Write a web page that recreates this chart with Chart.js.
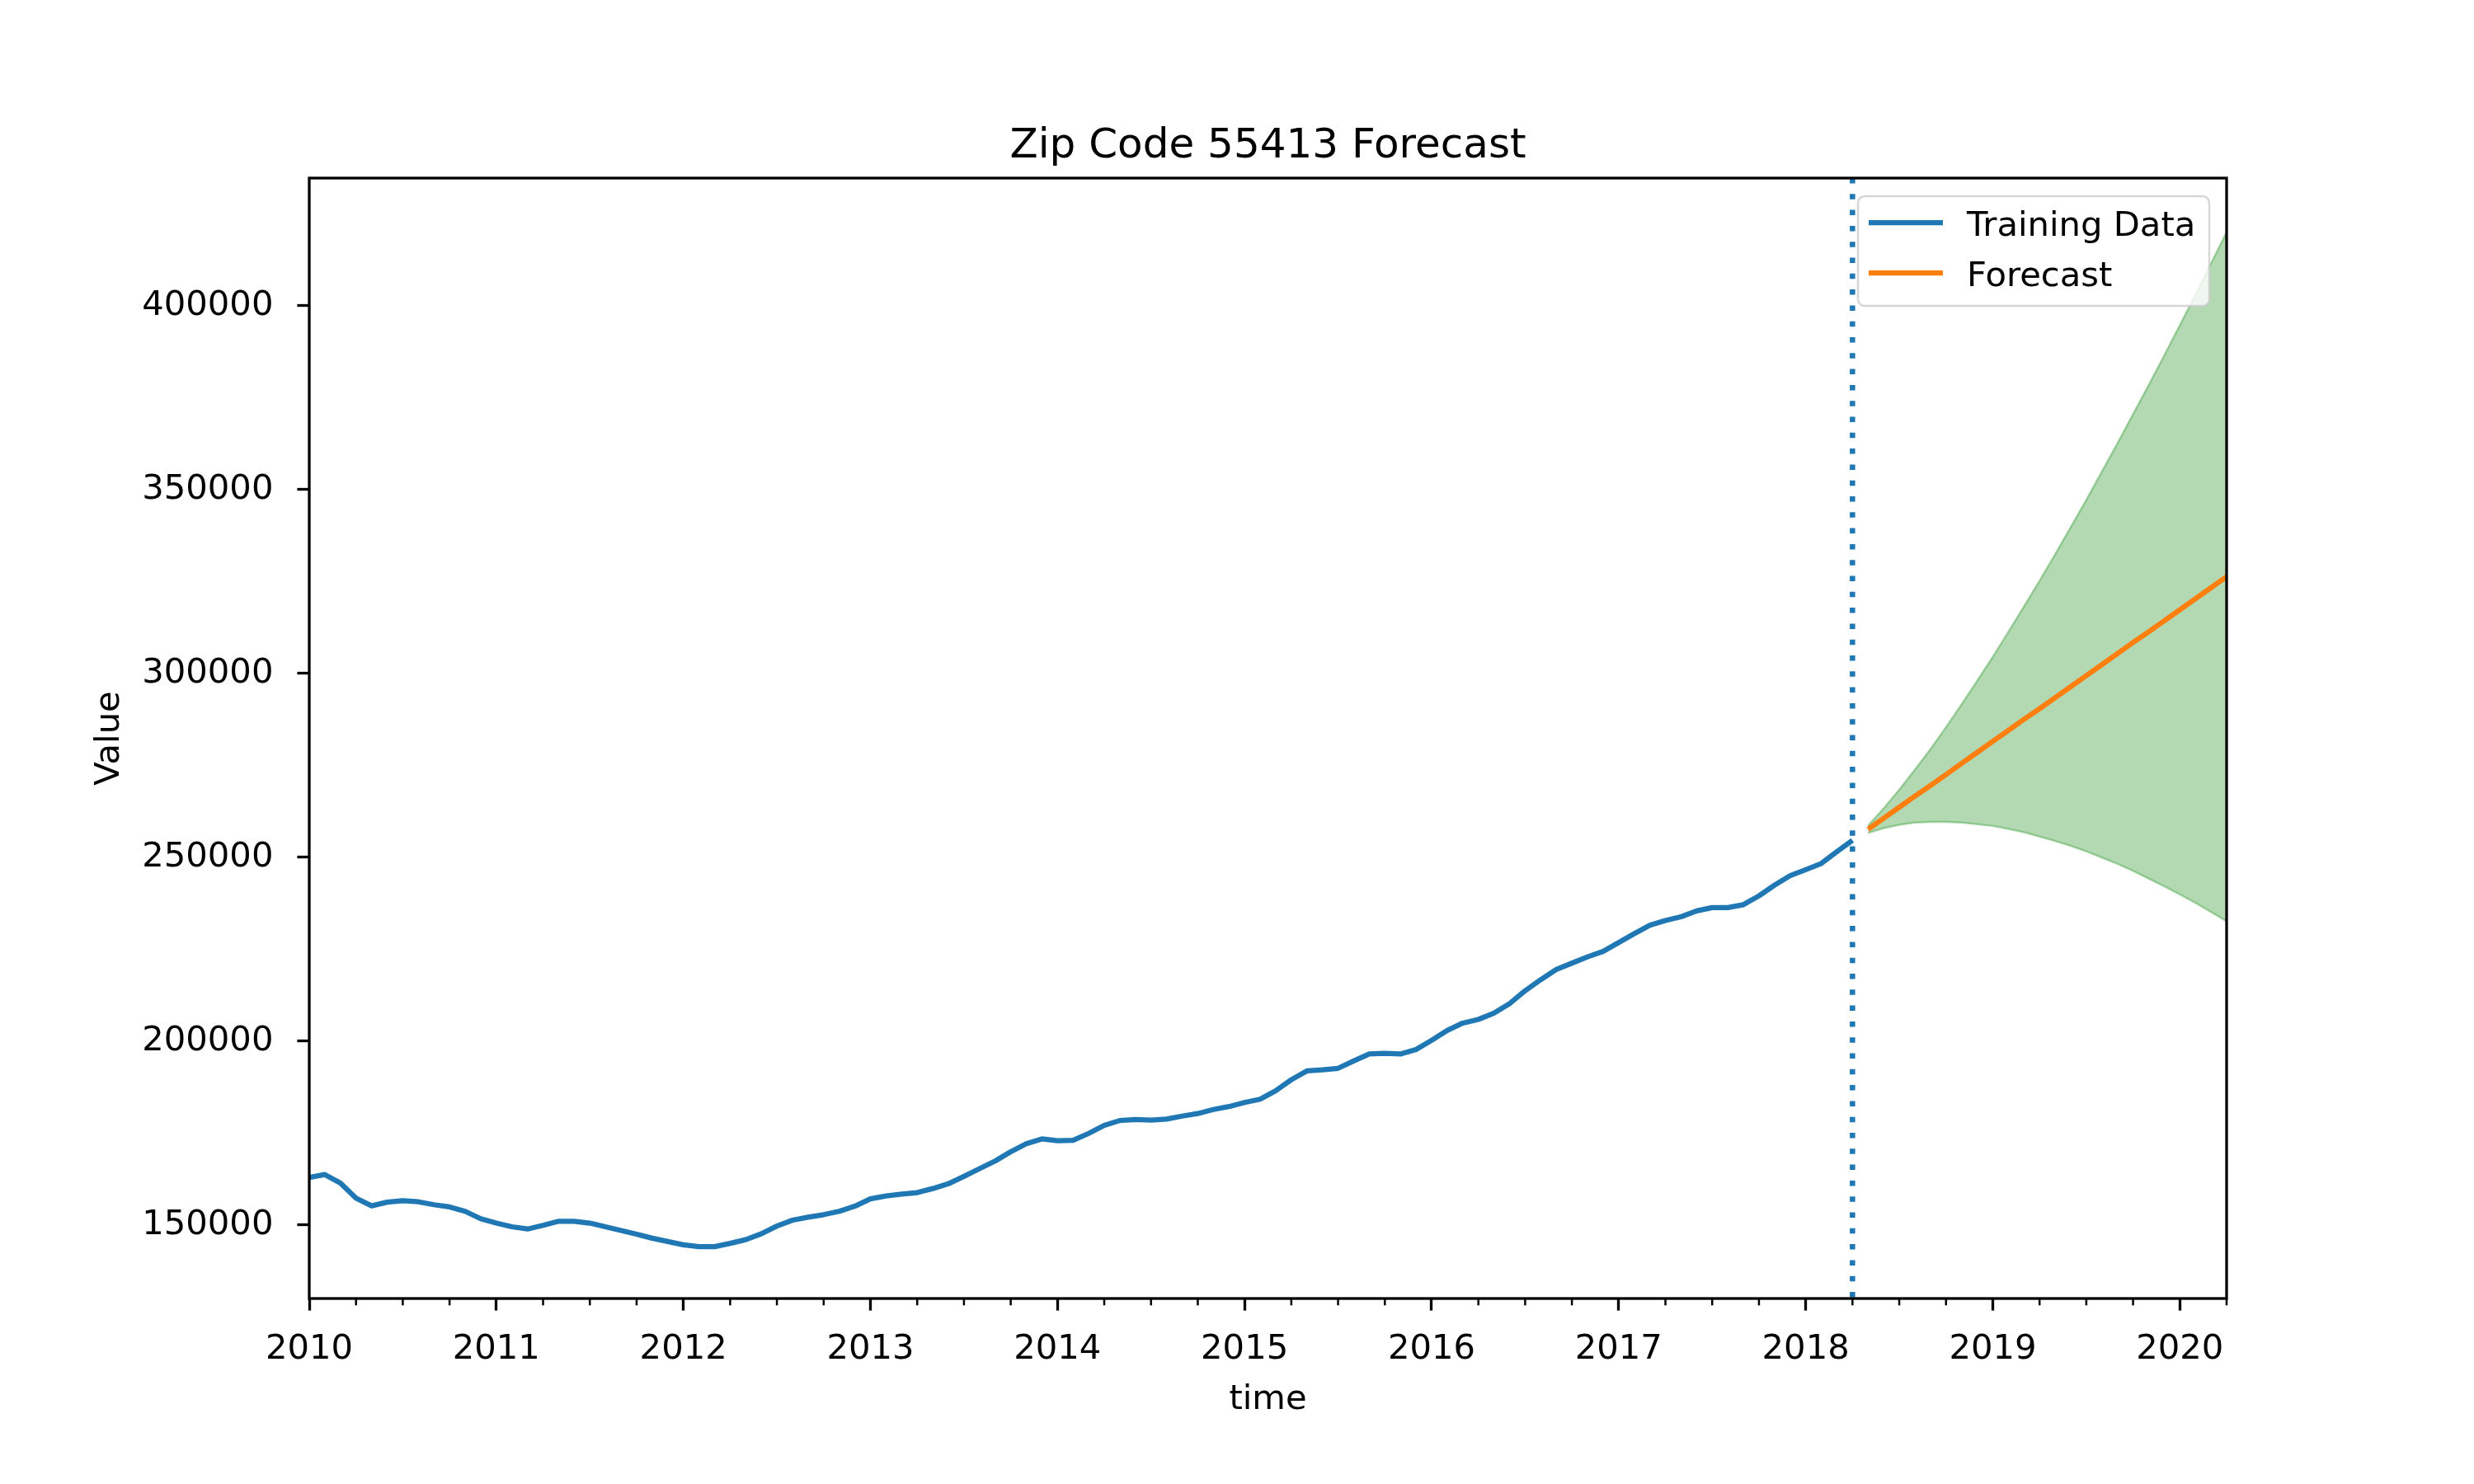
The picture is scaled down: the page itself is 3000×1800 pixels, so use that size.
<!DOCTYPE html>
<html>
<head>
<meta charset="utf-8">
<title>Zip Code 55413 Forecast</title>
<script src="https://cdn.jsdelivr.net/npm/chart.js@4.4.0/dist/chart.umd.min.js"></script>
<style>
    html, body { margin: 0; padding: 0; background: #ffffff; }
    #wrap { width: 3000px; height: 1800px; }
</style>
</head>
<body>
<div id="wrap"><canvas id="forecastChart" width="3000" height="1800"></canvas></div>
<script>
/* ========================================
   Data (monthly, training starts Jan 2010)
   ======================================== */

const chartTitle = 'Zip Code 55413 Forecast';
const trainStartYear = 2010;

const trainValues = [
    162900, 163700, 161400, 157300, 155200, 156200, 156600, 156300, 155500, 154900, 153700, 151700,
    150500, 149500, 148900, 149900, 151000, 151000, 150500, 149500, 148500, 147500, 146400, 145500,
    144600, 144100, 144100, 145000, 146000, 147600, 149700, 151300, 152100, 152800, 153700, 155100,
    157100, 157900, 158400, 158800, 159900, 161200, 163200, 165300, 167400, 169900, 172100, 173400,
    172900, 173000, 174900, 177100, 178400, 178700, 178500, 178800, 179600, 180300, 181400, 182200,
    183300, 184200, 186500, 189500, 191900, 192200, 192600, 194600, 196500, 196700, 196500, 197700,
    200200, 202900, 204900, 205900, 207600, 210200, 213700, 216700, 219500, 221200, 222900, 224400,
    226800, 229200, 231500, 232800, 233800, 235400, 236300, 236300, 237100, 239500, 242400, 245000,
    246600, 248300, 251500, 254600
];

// forecast starts the month after the last training value (May 2018)
const forecastValues = [
    257600, 260600, 263600, 266600, 269500, 272500, 275500, 278500, 281500, 284500, 287500, 290400,
    293400, 296400, 299400, 302400, 305400, 308400, 311300, 314300, 317300, 320300, 323300, 326300
];
const upperValues = [
    258600, 263300, 268400, 273800, 279400, 285400, 291600, 298000, 304500, 311300, 318200, 325200,
    332400, 339800, 347200, 354900, 362600, 370500, 378400, 386500, 394700, 403000, 411500, 420000
];
const lowerValues = [
    256600, 257900, 258800, 259400, 259600, 259600, 259400, 259000, 258500, 257700, 256800, 255600,
    254400, 253100, 251600, 249900, 248200, 246300, 244200, 242100, 239900, 237600, 235100, 232600
];

const xTickYears = [2010, 2011, 2012, 2013, 2014, 2015, 2016, 2017, 2018, 2019, 2020];
const yTickValues = [150000, 200000, 250000, 300000, 350000, 400000];
const yMin = 130000;
const yMax = 434700;

const legendLabels = ['Training Data', 'Forecast'];

/* ========================================
   Helpers
   ======================================== */

const FONT = "'DejaVu Sans', 'Liberation Sans', sans-serif";
const BLUE = '#1f77b4';
const ORANGE = '#ff7f0e';
const BAND = 'rgba(0, 128, 0, 0.3)';

// month offset from Jan of trainStartYear
function toPoints(values, startIndex) {
    return values.map((v, i) => ({ x: startIndex + i, y: v }));
}

const lastTrainIndex = trainValues.length - 1;
const xMaxIndex = trainValues.length + forecastValues.length - 1;

/* ========================================
   Extra drawing: spines, minor ticks, axvline, legend, title
   ======================================== */

const matplotlibLook = {
    id: 'matplotlibLook',
    afterDatasetsDraw(chart) {
        const { ctx, chartArea: a, scales: { x } } = chart;
        const vx = x.getPixelForValue(lastTrainIndex);
        ctx.save();
        ctx.strokeStyle = BLUE;
        ctx.lineWidth = 6.5;
        ctx.lineCap = 'butt';
        ctx.setLineDash([6.5, 12.8]);
        ctx.beginPath();
        ctx.moveTo(vx, a.top);
        ctx.lineTo(vx, a.bottom);
        ctx.stroke();
        ctx.restore();
    },
    afterDraw(chart) {
        const { ctx, chartArea: a, scales: { x } } = chart;
        ctx.save();

        // minor ticks every quarter
        ctx.strokeStyle = '#000';
        ctx.lineWidth = 2.5;
        for (let m = 0; m <= xMaxIndex; m += 3) {
            if (m % 12 === 0) continue;
            const px = x.getPixelForValue(m);
            ctx.beginPath();
            ctx.moveTo(px, a.bottom);
            ctx.lineTo(px, a.bottom + 8.3);
            ctx.stroke();
        }

        // legend box (upper right, inside axes)
        const boxL = a.right - 447, boxT = a.top + 22, boxW = 426, boxH = 133;
        ctx.fillStyle = 'rgba(255, 255, 255, 0.8)';
        ctx.strokeStyle = 'rgba(204, 204, 204, 0.8)';
        ctx.lineWidth = 2.5;
        ctx.beginPath();
        ctx.roundRect(boxL, boxT, boxW, boxH, 8);
        ctx.fill();
        ctx.stroke();

        const colors = [BLUE, ORANGE];
        legendLabels.forEach((label, i) => {
            const ly = boxT + 32 + i * 61;
            ctx.strokeStyle = colors[i];
            ctx.lineWidth = 6.25;
            ctx.lineCap = 'butt';
            ctx.beginPath();
            ctx.moveTo(boxL + 13, ly);
            ctx.lineTo(boxL + 103, ly);
            ctx.stroke();
            ctx.fillStyle = '#000';
            ctx.font = '41.7px ' + FONT;
            ctx.textAlign = 'left';
            ctx.textBaseline = 'alphabetic';
            ctx.fillText(label, boxL + 132, ly + 15.5);
        });

        // frame (all four spines)
        ctx.strokeStyle = '#000';
        ctx.lineWidth = 3.3;
        ctx.strokeRect(a.left, a.top, a.right - a.left, a.bottom - a.top);

        // title
        ctx.fillStyle = '#000';
        ctx.font = '50px ' + FONT;
        ctx.textAlign = 'center';
        ctx.textBaseline = 'alphabetic';
        ctx.fillText(chartTitle, (a.left + a.right) / 2, a.top - 25);

        ctx.restore();
    }
};

/* ========================================
   Chart
   ======================================== */

const ctx = document.getElementById('forecastChart');

new Chart(ctx, {
    type: 'line',
    data: {
        datasets: [
            {
                label: 'Training Data',
                data: toPoints(trainValues, 0),
                borderColor: BLUE,
                borderWidth: 6.25,
                borderJoinStyle: 'round',
                pointRadius: 0,
                fill: false,
                order: 1
            },
            {
                label: 'Forecast',
                data: toPoints(forecastValues, trainValues.length),
                borderColor: ORANGE,
                borderWidth: 6.25,
                borderJoinStyle: 'round',
                pointRadius: 0,
                fill: false,
                order: 1
            },
            {
                label: 'upper',
                data: toPoints(upperValues, trainValues.length),
                borderColor: BAND,
                backgroundColor: BAND,
                borderWidth: 2.5,
                pointRadius: 0,
                fill: '+1',
                order: 3
            },
            {
                label: 'lower',
                data: toPoints(lowerValues, trainValues.length),
                borderColor: BAND,
                borderWidth: 2.5,
                pointRadius: 0,
                fill: false,
                order: 3
            }
        ]
    },
    options: {
        responsive: false,
        devicePixelRatio: 1,
        animation: false,
        events: [],
        layout: {
            padding: { top: 216, right: 300, bottom: 0, left: 0 }
        },
        plugins: {
            legend: { display: false },
            tooltip: { enabled: false },
            title: { display: false }
        },
        scales: {
            x: {
                type: 'linear',
                min: 0,
                max: xMaxIndex,
                afterFit: (scale) => { scale.height = 225; },
                afterBuildTicks: (scale) => {
                    scale.ticks = xTickYears.map(yr => ({ value: (yr - trainStartYear) * 12 }));
                },
                grid: {
                    display: true,
                    drawOnChartArea: false,
                    drawTicks: true,
                    tickLength: 14.6,
                    tickWidth: 3.3,
                    tickColor: '#000'
                },
                border: { display: false },
                ticks: {
                    autoSkip: false,
                    maxRotation: 0,
                    padding: 23,
                    color: '#000',
                    font: { family: FONT, size: 41.7 },
                    callback: (value) => String(trainStartYear + Math.round(value / 12))
                },
                title: {
                    display: true,
                    text: 'time',
                    color: '#000',
                    font: { family: FONT, size: 41.7 },
                    padding: 77
                }
            },
            y: {
                type: 'linear',
                min: yMin,
                max: yMax,
                afterFit: (scale) => { scale.width = 375; },
                afterBuildTicks: (scale) => {
                    scale.ticks = yTickValues.map(v => ({ value: v }));
                },
                grid: {
                    display: true,
                    drawOnChartArea: false,
                    drawTicks: true,
                    tickLength: 14.6,
                    tickWidth: 3.3,
                    tickColor: '#000'
                },
                border: { display: false },
                ticks: {
                    autoSkip: false,
                    padding: 29,
                    color: '#000',
                    font: { family: FONT, size: 41.7 },
                    callback: (value) => String(value)
                },
                title: {
                    display: true,
                    text: 'Value',
                    color: '#000',
                    font: { family: FONT, size: 41.7 },
                    padding: 108
                }
            }
        }
    },
    plugins: [matplotlibLook]
});
</script>
</body>
</html>
